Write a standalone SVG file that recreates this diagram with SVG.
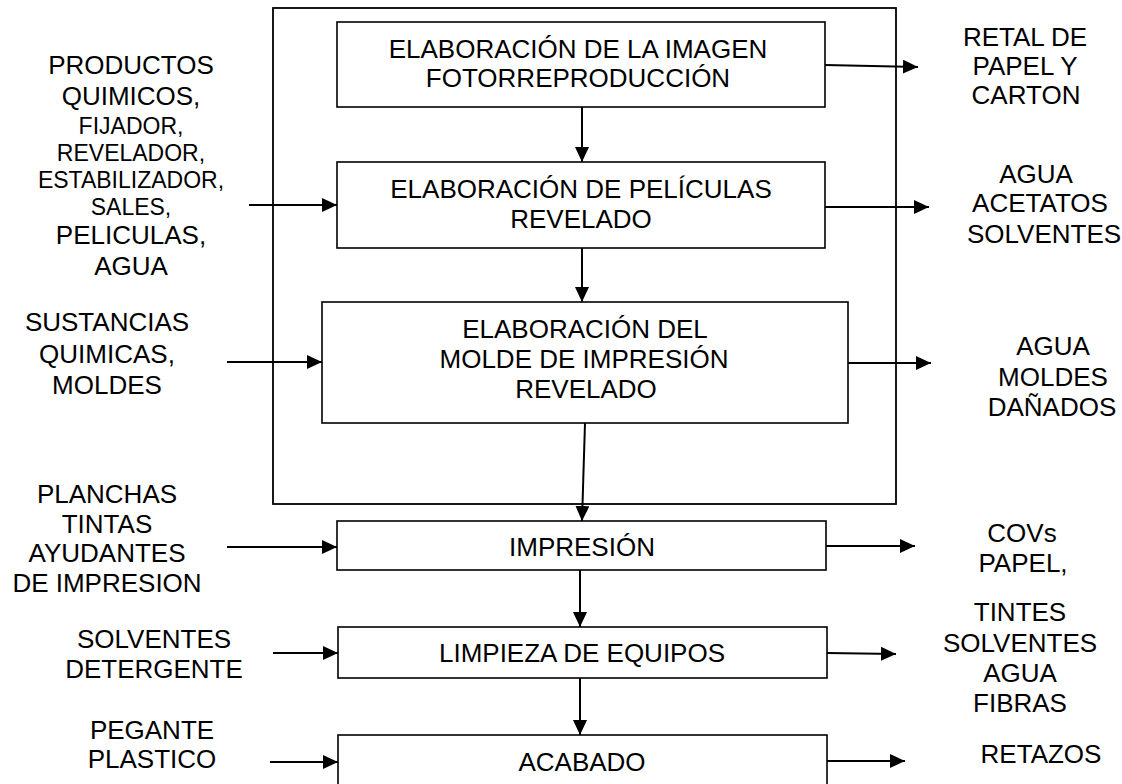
<svg xmlns="http://www.w3.org/2000/svg" width="1122" height="784" viewBox="0 0 1122 784">
<style>
.box{fill:#fff;stroke:#000;stroke-width:1.6}
.frame{fill:none;stroke:#000;stroke-width:1.8}
.con{fill:none;stroke:#000;stroke-width:2;marker-end:url(#ah)}
text{font-family:"Liberation Sans",Arial,sans-serif;font-size:26px;fill:#000;text-anchor:middle}
.sm{font-size:23px}
</style>
<defs>
<marker id="ah" markerUnits="userSpaceOnUse" markerWidth="16" markerHeight="14" refX="15" refY="7" orient="auto">
<path d="M0,0 L15,7 L0,14 z" fill="#000"/>
</marker>
</defs>
<rect width="1122" height="784" fill="#fff"/>
<rect id="frame" class="frame" x="273" y="8" width="623" height="496"/>
<g id="n1"><rect class="box" x="337" y="22" width="488" height="85"/><text x="578" y="58">ELABORACIÓN DE LA IMAGEN</text><text x="578" y="87">FOTORREPRODUCCIÓN</text></g>
<g id="n2"><rect class="box" x="337" y="162" width="488" height="86"/><text x="581" y="198">ELABORACIÓN DE PELÍCULAS</text><text x="581" y="228">REVELADO</text></g>
<g id="n3"><rect class="box" x="322" y="302" width="526" height="121"/><text x="585" y="338">ELABORACIÓN DEL</text><text x="584" y="368">MOLDE DE IMPRESIÓN</text><text x="586" y="398">REVELADO</text></g>
<g id="n4"><rect class="box" x="337" y="521" width="489" height="49"/><text x="582" y="556">IMPRESIÓN</text></g>
<g id="n5"><rect class="box" x="338" y="627" width="489" height="51"/><text x="582" y="662">LIMPIEZA DE EQUIPOS</text></g>
<g id="n6"><rect class="box" x="338" y="735" width="489" height="70"/><text x="582" y="771">ACABADO</text></g>
<g id="in1"><text x="131" y="74">PRODUCTOS</text><text x="131" y="105">QUIMICOS,</text><text class="sm" x="131" y="134">FIJADOR,</text><text class="sm" x="131" y="161">REVELADOR,</text><text class="sm" x="131" y="188">ESTABILIZADOR,</text><text class="sm" x="131" y="215">SALES,</text><text x="131" y="244">PELICULAS,</text><text x="131" y="275">AGUA</text></g>
<g id="in2"><text x="107" y="331">SUSTANCIAS</text><text x="107" y="363">QUIMICAS,</text><text x="107" y="394">MOLDES</text></g>
<g id="in3"><text x="107" y="503">PLANCHAS</text><text x="107" y="533">TINTAS</text><text x="107" y="562">AYUDANTES</text><text x="107" y="592">DE IMPRESION</text></g>
<g id="in4"><text x="154" y="648">SOLVENTES</text><text x="154" y="678">DETERGENTE</text></g>
<g id="in5"><text x="152" y="739">PEGANTE</text><text x="152" y="768">PLASTICO</text></g>
<g id="out1"><text x="1025" y="46">RETAL DE</text><text x="1025" y="75">PAPEL Y</text><text x="1026" y="104">CARTON</text></g>
<g id="out2"><text x="1036" y="183">AGUA</text><text x="1040" y="212">ACETATOS</text><text x="1044" y="243">SOLVENTES</text></g>
<g id="out3"><text x="1053" y="355">AGUA</text><text x="1053" y="386">MOLDES</text><text x="1052" y="416">DAÑADOS</text></g>
<g id="out4"><text x="1022" y="542">COVs</text><text x="1023" y="572">PAPEL,</text></g>
<g id="out5"><text x="1020" y="621">TINTES</text><text x="1020" y="652">SOLVENTES</text><text x="1020" y="682">AGUA</text><text x="1020" y="712">FIBRAS</text></g>
<g id="out6"><text x="1041" y="763">RETAZOS</text></g>
<g id="connectors">
<path class="con" d="M582,107 L582,162"/>
<path class="con" d="M582,248 L582,302"/>
<path class="con" d="M585,423 L582,521"/>
<path class="con" d="M580,570 L580,627"/>
<path class="con" d="M580,678 L580,735"/>
<path class="con" d="M249,205 L337,205"/>
<path class="con" d="M227,362 L322,362"/>
<path class="con" d="M227,547 L337,547"/>
<path class="con" d="M273,653 L338,653"/>
<path class="con" d="M270,762 L338,762"/>
<path class="con" d="M825,65 L918,67"/>
<path class="con" d="M825,207 L929,207"/>
<path class="con" d="M848,363 L931,363"/>
<path class="con" d="M826,546 L915,546"/>
<path class="con" d="M827,653 L896,654"/>
<path class="con" d="M827,761 L905,761"/>
</g>
</svg>
